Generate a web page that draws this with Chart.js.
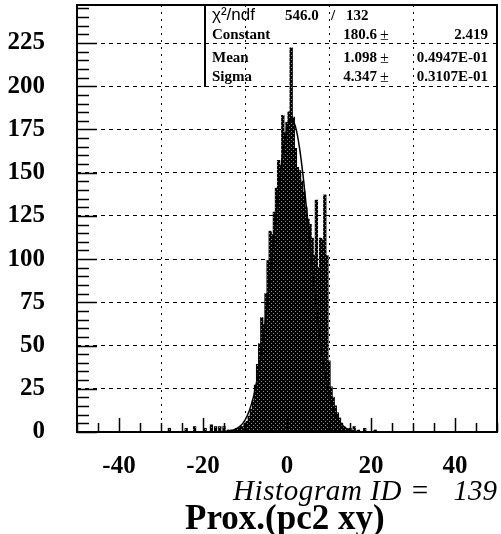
<!DOCTYPE html>
<html>
<head>
<meta charset="utf-8">
<script src="https://cdn.jsdelivr.net/npm/chart.js@4.4.0/dist/chart.umd.min.js"></script>
<style>
  html, body { margin: 0; padding: 0; background: #fff; }
  #wrap { position: relative; width: 501px; height: 534px; overflow: hidden; }
  #wrap canvas { position: absolute; left: 0; top: 0; }
  .t { position: absolute; white-space: pre; color: #000; line-height: 1; }
  .st { font-family: "Liberation Serif", serif; font-weight: bold; font-size: 15px; }
  .chi { font-family: "Liberation Sans", sans-serif; font-size: 17px; }
  .pm { font-family: "Liberation Serif", serif; font-size: 16px; }
  #boxline { position: absolute; left: 204px; top: 5px; width: 2px; height: 82px; background: #000; }
  .hid { font-family: "Liberation Serif", serif; font-style: italic; font-size: 29px; top: 476px; }
  #title { font-family: "Liberation Serif", serif; font-weight: bold; font-size: 35px; left: 185px; top: 500px; }
</style>
</head>
<body>
<div id="wrap">
  <canvas id="hist" width="501" height="534"></canvas>
  <div id="boxline"></div>
  <div class="t chi" style="left:212px;top:6px">χ²/ndf</div>
  <div class="t st" style="left:285px;top:8px">546.0</div>
  <div class="t st" style="left:331px;top:8px">/</div>
  <div class="t st" style="left:346px;top:8px">132</div>
  <div class="t st" style="left:212px;top:27px">Constant</div>
  <div class="t st" style="right:124px;top:27px">180.6</div>
  <div class="t pm" style="left:380px;top:27px">±</div>
  <div class="t st" style="right:13px;top:27px">2.419</div>
  <div class="t st" style="left:212px;top:50px">Mean</div>
  <div class="t st" style="right:124px;top:50px">1.098</div>
  <div class="t pm" style="left:380px;top:50px">±</div>
  <div class="t st" style="right:13px;top:50px">0.4947E-01</div>
  <div class="t st" style="left:212px;top:69px">Sigma</div>
  <div class="t st" style="right:124px;top:69px">4.347</div>
  <div class="t pm" style="left:380px;top:69px">±</div>
  <div class="t st" style="right:13px;top:69px">0.3107E-01</div>
  <div class="t hid" style="left:233px;letter-spacing:0.6px">Histogram ID =</div>
  <div class="t hid" style="right:4px">139</div>
  <div class="t" id="title">Prox.(pc2 xy)</div>
</div>
<script>
// ---- data ----
const binWidth = 0.5;
const mainStart = -14;          // centre of first bin
const mainCounts = [
  1, 1, 1, 1, 2, 2, 3, 3, 5, 6,
  9, 13, 18, 27, 39, 51, 66, 62, 80, 99,
  116, 114, 127, 141, 157, 154, 183, 173, 179, 185,
  222, 182, 164, 153, 151, 145, 139, 130, 123, 120,
  112, 102, 134, 95, 112, 111, 137, 102, 41, 26,
  20, 15, 11, 8, 5, 3, 2, 1
];
// sparse entries in the tails
const tailBins = [-28, -24, -22, -19.5, -18, -17, -16, -15, 15, 16, 17, 18.5, 21];
const tailCounts = [2, 2, 3, 2, 4, 3, 3, 3, 2, 3, 1, 2, 1];

// gaussian fit curve (Constant 180.6, Mean 1.098, Sigma 4.347)
const fitX = [-15, -14, -13, -12, -11, -10, -9, -8, -7, -6, -5, -4, -3, -2, -1, 0,
              1, 2, 3, 4, 5, 6, 7, 8, 9, 10, 11, 12, 13, 14, 15, 16, 17];
const fitY = [0.2, 0.43, 0.94, 1.93, 3.75, 6.94, 12.2, 20.2, 31.9, 47.6, 67.5, 90.8, 115.8, 140.1, 160.7, 174.9,
              180.6, 176.8, 164.1, 144.5, 120.7, 95.6, 71.9, 51.2, 34.6, 22.2, 13.5, 7.8, 4.3, 2.2, 1.1, 0.5, 0.2];

const xTickValues = [-40, -20, 0, 20, 40];
const yTickValues = [0, 25, 50, 75, 100, 125, 150, 175, 200, 225];
const xRange = [-50, 50];
const yRange = [0, 247];
const minorStep = 5;

// ---- build datasets ----
const histPoints = mainCounts.map((c, i) => ({ x: mainStart + i * binWidth, y: c }))
  .concat(tailBins.map((b, i) => ({ x: b, y: tailCounts[i] })));
const fitPoints = fitX.map((x, i) => ({ x: x, y: fitY[i] }));

// stippled fill like the scanned print
function makePattern() {
  const c = document.createElement('canvas');
  c.width = 4; c.height = 4;
  const g = c.getContext('2d');
  g.fillStyle = '#000';
  g.fillRect(0, 0, 4, 4);
  g.fillStyle = '#8c8c8c';
  g.fillRect(1, 1, 1, 1);
  g.fillRect(3, 3, 1, 1);
  return g.createPattern(c, 'repeat');
}

// frame + inward tick marks
const frameTicks = {
  id: 'frameTicks',
  afterDraw(chart) {
    const { ctx, chartArea: a, scales: { x, y } } = chart;
    ctx.save();
    ctx.strokeStyle = '#000';
    ctx.lineWidth = 1.5;
    ctx.beginPath();
    for (let v = xRange[0]; v <= xRange[1]; v += minorStep) {
      const px = Math.round(x.getPixelForValue(v)) + 0.5;
      const len = xTickValues.includes(v) ? 14 : 9;
      ctx.moveTo(px, a.bottom);
      ctx.lineTo(px, a.bottom - len);
    }
    for (let v = 0; v <= yRange[1]; v += minorStep) {
      const py = Math.round(y.getPixelForValue(v)) + 0.5;
      const len = yTickValues.includes(v) ? 20 : 12;
      ctx.moveTo(a.left, py);
      ctx.lineTo(a.left + len, py);
    }
    ctx.stroke();
    ctx.lineWidth = 2;
    ctx.strokeRect(a.left, a.top, a.right - a.left, a.bottom - a.top);
    ctx.restore();
  }
};

const tickFont = { family: 'Liberation Serif', weight: 'bold', size: 25 };

new Chart(document.getElementById('hist'), {
  type: 'bar',
  data: {
    datasets: [
      {
        type: 'line',
        data: fitPoints,
        borderColor: '#000',
        borderWidth: 1.5,
        pointRadius: 0,
        cubicInterpolationMode: 'monotone',
        order: 0
      },
      {
        type: 'bar',
        data: histPoints,
        backgroundColor: makePattern(),
        borderWidth: 0,
        inflateAmount: 0.6,
        barPercentage: 1,
        categoryPercentage: 1,
        grouped: false,
        order: 1
      }
    ]
  },
  options: {
    responsive: false,
    animation: false,
    layout: { autoPadding: false, padding: { top: 5, right: 4, left: 0, bottom: 0 } },
    plugins: { legend: { display: false }, tooltip: { enabled: false } },
    scales: {
      x: {
        type: 'linear',
        min: xRange[0],
        max: xRange[1],
        offset: false,
        afterBuildTicks: s => { s.ticks = xTickValues.map(v => ({ value: v })); },
        afterFit: s => { s.height = 102; s.paddingLeft = 0; s.paddingRight = 0; },
        grid: { color: '#000', lineWidth: 1, drawTicks: false },
        border: { display: false, dash: [2, 5] },
        ticks: { font: tickFont, color: '#000', padding: 20, maxRotation: 0 }
      },
      y: {
        min: yRange[0],
        max: yRange[1],
        afterBuildTicks: s => { s.ticks = yTickValues.map(v => ({ value: v })); },
        afterFit: s => { s.width = 77; s.paddingTop = 0; s.paddingBottom = 0; },
        grid: { color: '#000', lineWidth: 1, drawTicks: false },
        border: { display: false, dash: [4, 4] },
        ticks: { font: tickFont, color: '#000', padding: 32 }
      }
    }
  },
  plugins: [frameTicks]
});
</script>
</body>
</html>
